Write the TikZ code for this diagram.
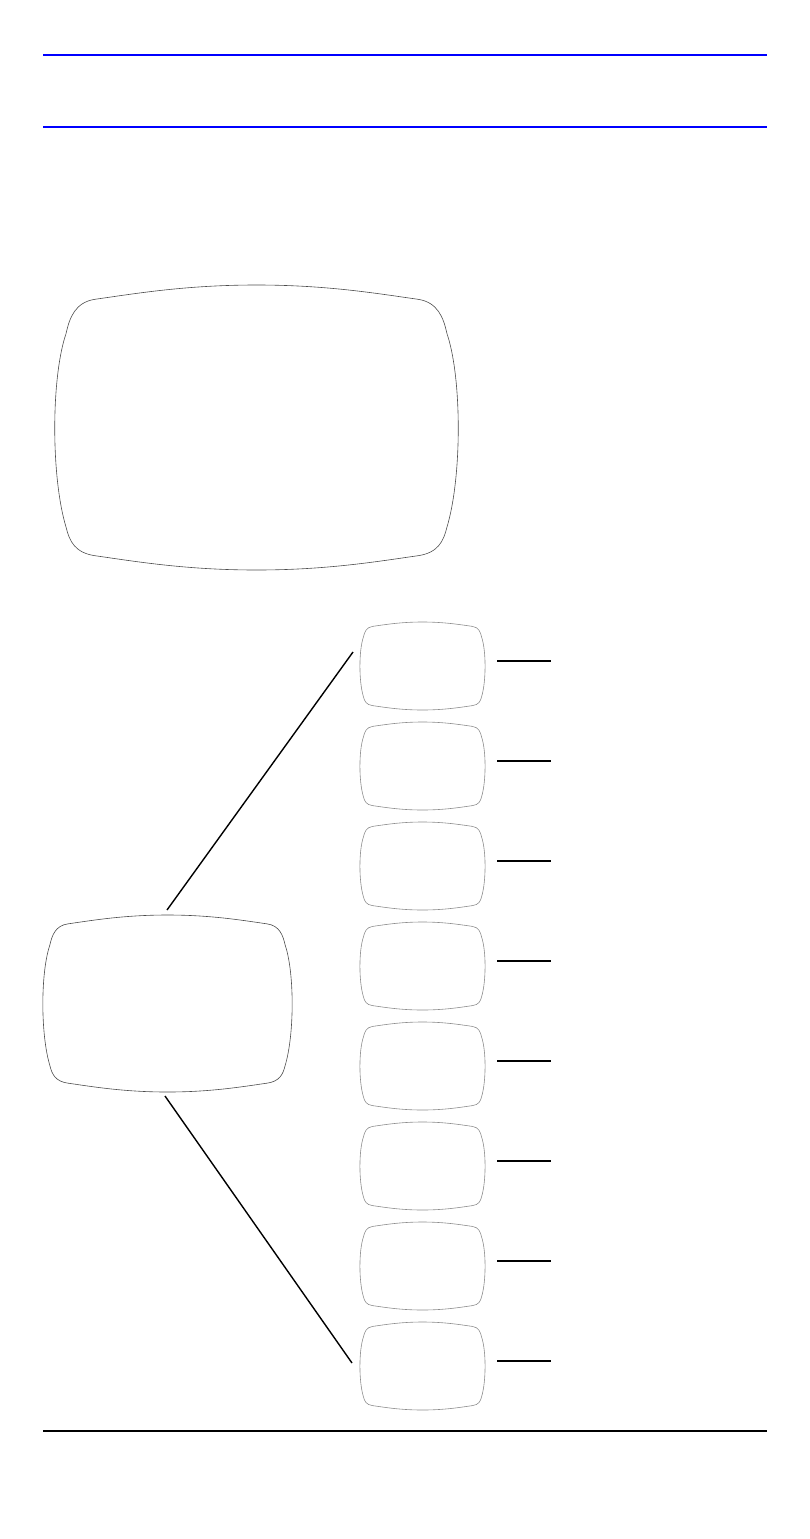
\documentclass[tikz,border=0pt]{standalone}
\usetikzlibrary{calc}
\tikzset{
  tvbox/.style={inner sep=0pt, outer sep=0pt, draw=none},
  bigline/.style={draw=black!70, line width=0.6pt},
  smallline/.style={draw=black!45, line width=0.6pt},
  rule/.style={line width=2pt},
  conn/.style={draw=black, line width=1.4pt},
  tickline/.style={draw=black, line width=1.3pt},
}
\newcommand\tvshape[4]{%
  \begin{scope}[shift={(#1.center)}, xscale=#2, yscale=#3]
    \path[#4] (0,-1) .. controls (-0.35,-1) and (-0.6,-0.94) .. (-0.8,-0.9)
      .. controls (-0.9,-0.88) and (-0.928,-0.77) .. (-0.945,-0.66)
      .. controls (-1.02,-0.35) and (-1.02,0.35) .. (-0.945,0.7)
      .. controls (-0.928,0.8) and (-0.9,0.88) .. (-0.8,0.9)
      .. controls (-0.6,0.94) and (-0.35,1) .. (0,1)
      .. controls (0.35,1) and (0.6,0.94) .. (0.8,0.9)
      .. controls (0.9,0.88) and (0.928,0.8) .. (0.945,0.7)
      .. controls (1.02,0.35) and (1.02,-0.35) .. (0.945,-0.66)
      .. controls (0.928,-0.77) and (0.9,-0.88) .. (0.8,-0.9)
      .. controls (0.6,-0.94) and (0.35,-1) .. (0,-1) -- cycle;
  \end{scope}}
\begin{document}
\begin{tikzpicture}[x=1pt, y=-1pt]
\useasboundingbox (0,0) rectangle (810,1539);
% rules
\draw[rule, blue] (43,55) coordinate (r1a) -- (767,55) coordinate (r1b);
\draw[rule, blue] (43,127) coordinate (r2a) -- (767,127) coordinate (r2b);
\draw[rule, black] (43,1431) coordinate (r3a) -- (767,1431) coordinate (r3b);
% big TV
\node[tvbox, minimum width=403pt, minimum height=285pt] (big) at (256.5,427.5) {};
\tvshape{big}{201.5}{142.5}{bigline}
% medium TV
\node[tvbox, minimum width=249pt, minimum height=177pt] (med) at (167.5,1003.5) {};
\tvshape{med}{124.5}{88.5}{bigline}
% small TVs
\foreach \i in {1,...,8} {
  \node[tvbox, minimum width=125pt, minimum height=88pt] (s\i) at (422.5,{666+100*(\i-1)}) {};
  \tvshape{s\i}{62.5}{44}{smallline}
  \draw[tickline] ([xshift=12pt,yshift=5pt]s\i.east) -- ++(54,0);
}
% connectors
\draw[conn] ([xshift=-0.5pt,yshift=5pt]med.north) -- ([xshift=-7pt,yshift=14pt]s1.west);
\draw[conn] ([xshift=-2.5pt,yshift=-4pt]med.south) -- ([xshift=-8pt,yshift=3pt]s8.west);
\end{tikzpicture}
\end{document}
